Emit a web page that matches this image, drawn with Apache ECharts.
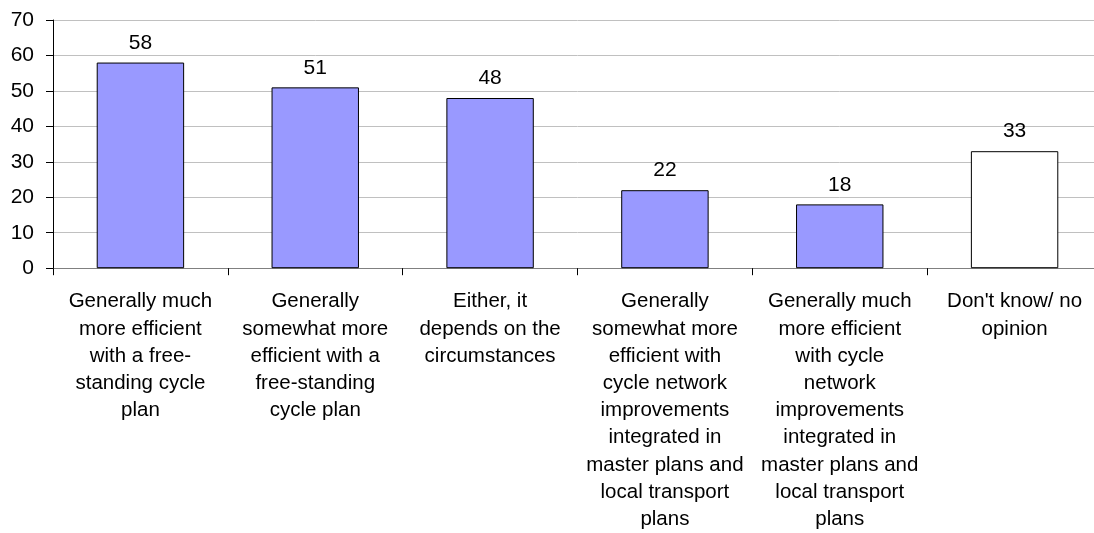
<!DOCTYPE html>
<html>
<head>
<meta charset="utf-8">
<script src="https://cdn.jsdelivr.net/npm/echarts@6/dist/echarts.min.js"></script>
<style>
html,body{margin:0;padding:0;background:#fff;overflow:hidden;width:1094px;height:533px;}
#c{width:1102px;height:533px;}
</style>
</head>
<body>
<div id="c"></div>
<script>
const categories = [
  "Generally much\nmore efficient\nwith a free-\nstanding cycle\nplan",
  "Generally\nsomewhat more\nefficient with a\nfree-standing\ncycle plan",
  "Either, it\ndepends on the\ncircumstances",
  "Generally\nsomewhat more\nefficient with\ncycle network\nimprovements\nintegrated in\nmaster plans and\nlocal transport\nplans",
  "Generally much\nmore efficient\nwith cycle\nnetwork\nimprovements\nintegrated in\nmaster plans and\nlocal transport\nplans",
  "Don't know/ no\nopinion"
];
const values = [58, 51, 48, 22, 18, 33];
const barColors = ["#9999FF", "#9999FF", "#9999FF", "#9999FF", "#9999FF", "#FFFFFF"];
const yTicks = [0, 10, 20, 30, 40, 50, 60, 70];

const chart = echarts.init(document.getElementById('c'), null, {renderer: 'canvas'});
const font = 'Arial, "Liberation Sans", sans-serif';
chart.setOption({
  animation: false,
  grid: {left: 53, right: 0, top: 20, bottom: 261, containLabel: false},
  xAxis: {
    type: 'category',
    data: categories,
    axisLine: {show: true, lineStyle: {color: '#808080', width: 1}},
    axisTick: {show: true, alignWithLabel: false, length: 7, lineStyle: {color: '#000'}},
    axisLabel: {
      interval: 0, color: '#000', fontFamily: font, fontSize: 20.5,
      lineHeight: 27.2, margin: 20, align: 'center'
    },
    splitLine: {show: false}
  },
  yAxis: {
    type: 'value', min: 0, max: 70, interval: 10,
    axisLine: {show: true, lineStyle: {color: '#000', width: 1}},
    axisTick: {show: true, length: 7, lineStyle: {color: '#000'}},
    axisLabel: {color: '#000', fontFamily: font, fontSize: 21, margin: 19,
      formatter: v => yTicks.includes(v) ? String(v) : ''},
    splitLine: {show: true, lineStyle: {color: '#c0c0c0', width: 1}}
  },
  series: [{
    type: 'bar',
    barWidth: '50%',
    data: values.map((v, i) => ({value: v, itemStyle: {color: barColors[i]}})),
    itemStyle: {borderColor: '#000', borderWidth: 1},
    label: {show: true, position: 'top', distance: 9, color: '#000', fontFamily: font, fontSize: 21}
  }]
});
</script>
</body>
</html>
